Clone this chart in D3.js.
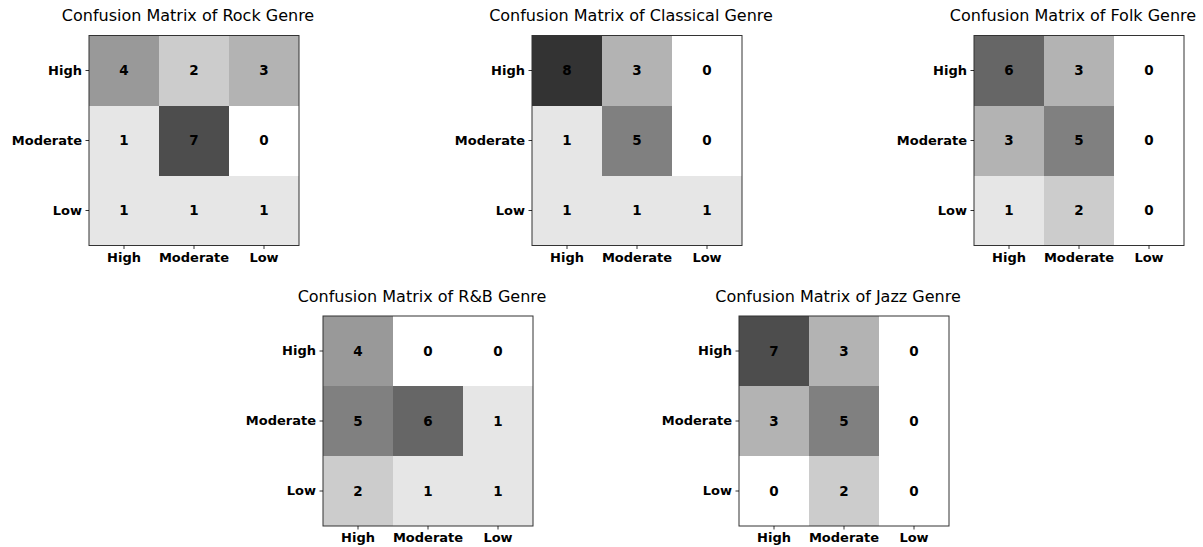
<!DOCTYPE html>
<html>
<head>
<meta charset="utf-8">
<script src="https://cdn.jsdelivr.net/npm/d3@7"></script>
<style>
  html, body { margin: 0; padding: 0; background: #fff; }
  svg { display: block; font-family: "DejaVu Sans", sans-serif; }
</style>
</head>
<body>
<svg id="chart" width="1203" height="547"></svg>
<script>
// ---- data ----
const categories = ["High", "Moderate", "Low"];
const genres = ["Rock", "Classical", "Folk", "R&B", "Jazz"];
const rockValues = [[4, 2, 3], [1, 7, 0], [1, 1, 1]];
const classicalValues = [[8, 3, 0], [1, 5, 0], [1, 1, 1]];
const folkValues = [[6, 3, 0], [3, 5, 0], [1, 2, 0]];
const rnbValues = [[4, 0, 0], [5, 6, 1], [2, 1, 1]];
const jazzValues = [[7, 3, 0], [3, 5, 0], [0, 2, 0]];
const matrices = [rockValues, classicalValues, folkValues, rnbValues, jazzValues];

// ---- layout ----
const size = 210;
const origins = [
  [89, 35.5], [532, 35.5], [974, 35.5],
  [323, 316], [739, 316]
];

const svg = d3.select("#chart");
const color = d3.scaleLinear().domain([0, 10]).range(["#ffffff", "#000000"]);

genres.forEach((g, i) => {
  const [ox, oy] = origins[i];
  const m = matrices[i];
  const x = d3.scaleBand().domain(categories).range([0, size]);
  const y = d3.scaleBand().domain(categories).range([0, size]);
  const gp = svg.append("g").attr("transform", `translate(${ox},${oy})`);

  const cells = [];
  m.forEach((row, r) => row.forEach((v, c) => cells.push({ r: categories[r], c: categories[c], v })));

  gp.selectAll("rect.cell").data(cells).join("rect")
    .attr("class", "cell")
    .attr("x", d => x(d.c))
    .attr("y", d => y(d.r))
    .attr("width", x.bandwidth())
    .attr("height", y.bandwidth())
    .attr("fill", d => color(d.v))
    .attr("shape-rendering", "crispEdges");

  gp.selectAll("text.val").data(cells).join("text")
    .attr("class", "val")
    .attr("x", d => x(d.c) + x.bandwidth() / 2)
    .attr("y", d => y(d.r) + y.bandwidth() / 2)
    .attr("text-anchor", "middle")
    .attr("dy", "0.36em")
    .attr("font-size", 13.5)
    .attr("font-weight", "bold")
    .attr("fill", "#000")
    .text(d => d.v);

  // frame
  gp.append("rect")
    .attr("x", 0).attr("y", 0).attr("width", size).attr("height", size)
    .attr("fill", "none").attr("stroke", "#333").attr("stroke-width", 1);

  // axes
  const xAxis = gp.append("g").attr("transform", `translate(0,${size})`)
    .call(d3.axisBottom(x).tickSize(3.5).tickPadding(3.5));
  const yAxis = gp.append("g")
    .call(d3.axisLeft(y).tickSize(3.5).tickPadding(3.5));
  [xAxis, yAxis].forEach(a => {
    a.select(".domain").remove();
    a.selectAll(".tick line").attr("stroke", "#000").attr("stroke-width", 0.8);
    a.selectAll(".tick text")
      .attr("font-family", "DejaVu Sans, sans-serif")
      .attr("font-size", 13)
      .attr("font-weight", "bold")
      .attr("fill", "#000");
  });

  gp.append("text")
    .attr("x", size / 2 - 6)
    .attr("y", -14.5)
    .attr("text-anchor", "middle")
    .attr("font-size", 16)
    .attr("fill", "#000")
    .text(`Confusion Matrix of ${g} Genre`);
});
</script>
</body>
</html>
